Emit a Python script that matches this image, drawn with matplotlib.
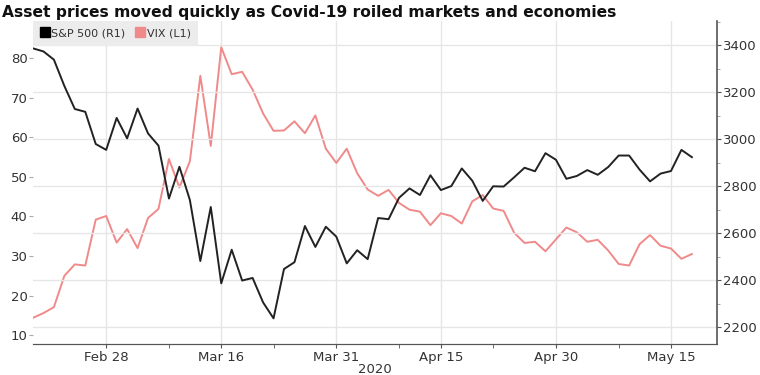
import matplotlib.pyplot as plt
from matplotlib.lines import Line2D
from matplotlib.ticker import FixedLocator, MultipleLocator

# trading days, Feb 19 to May 19 2020
dates = ["Feb 19", "Feb 20", "Feb 21", "Feb 24", "Feb 25", "Feb 26", "Feb 27", "Feb 28",
         "Mar 2", "Mar 3", "Mar 4", "Mar 5", "Mar 6", "Mar 9", "Mar 10", "Mar 11",
         "Mar 12", "Mar 13", "Mar 16", "Mar 17", "Mar 18", "Mar 19", "Mar 20", "Mar 23",
         "Mar 24", "Mar 25", "Mar 26", "Mar 27", "Mar 30", "Mar 31", "Apr 1", "Apr 2",
         "Apr 3", "Apr 6", "Apr 7", "Apr 8", "Apr 9", "Apr 13", "Apr 14", "Apr 15",
         "Apr 16", "Apr 17", "Apr 20", "Apr 21", "Apr 22", "Apr 23", "Apr 24", "Apr 27",
         "Apr 28", "Apr 29", "Apr 30", "May 1", "May 4", "May 5", "May 6", "May 7",
         "May 8", "May 11", "May 12", "May 13", "May 14", "May 15", "May 18", "May 19"]

spx = [3386, 3373, 3338, 3226, 3128, 3116, 2979, 2954,
       3090, 3003, 3130, 3024, 2972, 2747, 2882, 2741,
       2481, 2711, 2386, 2529, 2398, 2409, 2305, 2237,
       2447, 2476, 2630, 2541, 2627, 2585, 2471, 2527,
       2489, 2664, 2659, 2750, 2790, 2762, 2846, 2783,
       2800, 2875, 2823, 2737, 2799, 2798, 2837, 2878,
       2863, 2940, 2912, 2831, 2843, 2868, 2848, 2881,
       2930, 2930, 2870, 2820, 2853, 2864, 2954, 2923]

vix = [14.4, 15.6, 17.1, 25.0, 27.9, 27.6, 39.2, 40.1,
       33.4, 36.8, 32.0, 39.6, 41.9, 54.5, 47.3, 53.9,
       75.5, 57.8, 82.7, 75.9, 76.5, 72.0, 66.0, 61.6,
       61.7, 64.0, 61.0, 65.5, 57.1, 53.5, 57.1, 50.9,
       46.8, 45.2, 46.7, 43.4, 41.7, 41.2, 37.8, 40.8,
       40.1, 38.2, 43.8, 45.4, 42.0, 41.4, 35.9, 33.3,
       33.6, 31.2, 34.2, 37.2, 36.0, 33.6, 34.1, 31.4,
       28.0, 27.6, 33.0, 35.3, 32.6, 31.9, 29.3, 30.5]

tick_dates = ["Feb 28", "Mar 16", "Mar 31", "Apr 15", "Apr 30", "May 15"]
minor_dates = ["Mar 9", "Mar 23", "Apr 8", "Apr 22", "May 8"]

x = list(range(len(dates)))
pink = "#f08a8a"
dark = "#222222"
axis_col = "#555555"

fig = plt.figure(figsize=(7.6, 3.75), dpi=100)
ax = fig.add_axes([0.0434, 0.0827, 0.9, 0.861])
ax2 = ax.twinx()

ax.plot(x, vix, color=pink, lw=1.4, zorder=3)
ax2.plot(x, spx, color=dark, lw=1.4, zorder=3)

ax.set_xlim(0, 65.4)
ax.set_ylim(7.8, 89.3)
ax2.set_ylim(2128, 3502)

ax.xaxis.set_major_locator(FixedLocator([dates.index(d) for d in tick_dates]))
ax.set_xticklabels(tick_dates)
ax.xaxis.set_minor_locator(FixedLocator([dates.index(d) for d in minor_dates]))
ax.set_xlabel("2020", fontsize=9.5, color="#333333", labelpad=-1)

ax.yaxis.set_major_locator(MultipleLocator(10))
ax2.yaxis.set_major_locator(MultipleLocator(200))
ax2.yaxis.set_minor_locator(MultipleLocator(100))

ax.grid(axis="x", color="#e6e6e6", lw=1)
ax2.grid(axis="y", color="#e6e6e6", lw=1, zorder=0)
ax.set_axisbelow(True)
ax2.set_axisbelow(True)

for a in (ax, ax2):
    for s in ("top", "left"):
        a.spines[s].set_visible(False)
    a.spines["bottom"].set_color(axis_col)
    a.spines["right"].set_color(axis_col)
    a.spines["right"].set_linewidth(1.2)
ax.spines["right"].set_visible(False)

ax.tick_params(axis="x", colors=axis_col, labelcolor="#333333", labelsize=9.5,
               length=3, pad=2)
ax.tick_params(axis="x", which="minor", colors=axis_col, length=3)
ax.tick_params(axis="y", colors="#aaaaaa", labelcolor="#333333", labelsize=9.5,
               length=3, pad=1)
ax2.tick_params(axis="y", colors=axis_col, labelcolor="#333333", labelsize=9.5,
                length=3, pad=1)
ax2.tick_params(axis="y", which="minor", colors="#999999", length=2)

handles = [Line2D([], [], marker="s", ls="none", color="black", markersize=6.5),
           Line2D([], [], marker="s", ls="none", color=pink, markersize=6.5)]
leg = ax2.legend(handles, ["S&P 500 (R1)", "VIX (L1)"], loc="upper left", ncol=2,
                 frameon=True, fancybox=False, borderaxespad=0, fontsize=8,
                 handletextpad=0.1, columnspacing=0.9, handlelength=0.9,
                 borderpad=0.65, labelcolor="#333333")
leg.get_frame().set_facecolor("#ececec")
leg.get_frame().set_edgecolor("none")
leg.get_frame().set_alpha(1)

fig.text(0.003, 0.988, "Asset prices moved quickly as Covid-19 roiled markets and economies",
         fontsize=11.2, fontweight="bold", va="top", ha="left", color="#111111")

fig.savefig("out.png", dpi=100)
